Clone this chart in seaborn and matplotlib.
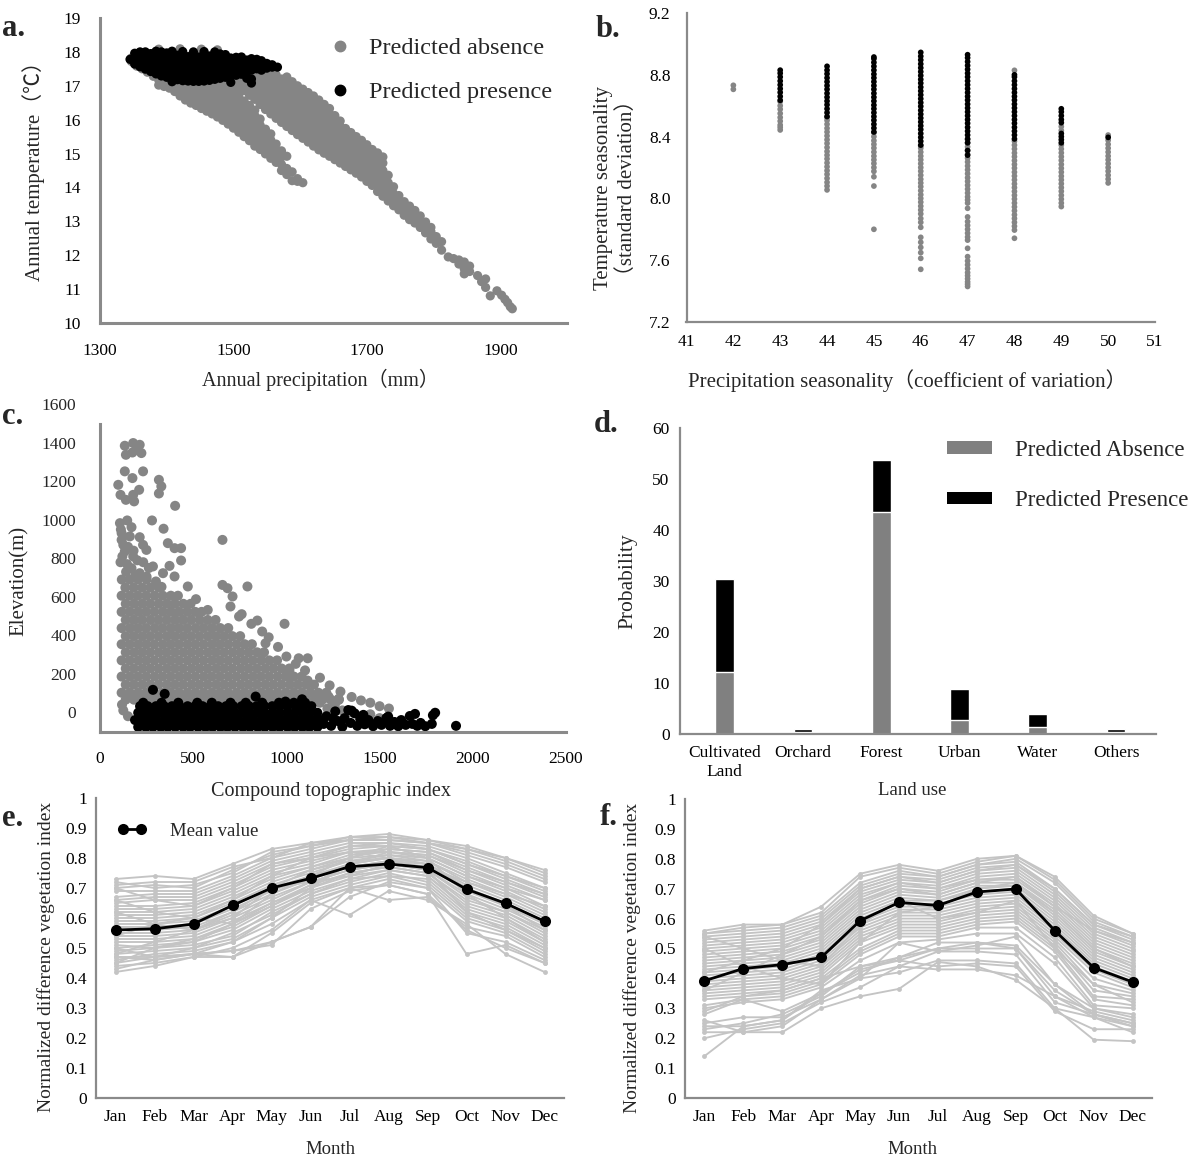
import numpy as np
import pandas as pd
import matplotlib
matplotlib.use("Agg")
import matplotlib.pyplot as plt
import seaborn as sns
from matplotlib.lines import Line2D
from matplotlib.patches import Patch

# ---------------------------------------------------------------- data
# panel a : (annual precipitation, [annual temperatures]) columns
a_absence = [
    (1347, [17.72, 17.82]), (1355, [17.58]), (1363, [17.50]), (1371, [17.40, 17.52]),
    (1380, [17.28, 17.42]), (1388, [17.02, 17.17, 17.32, 18.08]), (1396, [16.98, 17.12, 17.26]),
    (1404, [16.93, 17.08, 17.22]), (1412, [16.83, 16.99, 17.16]), (1420, [16.70, 16.87, 17.04, 17.19, 18.09]),
    (1428, [16.58, 16.75, 16.92, 17.09]), (1436, [16.49, 16.66, 16.83, 17.00, 17.15]),
    (1444, [16.42, 16.58, 16.76, 16.93, 17.10]), (1452, [16.33, 16.50, 16.68, 16.85, 17.03, 18.08]),
    (1460, [16.25, 16.43, 16.60, 16.78, 16.96, 17.12]), (1468, [16.17, 16.34, 16.52, 16.70, 16.88, 17.06]),
    (1476, [16.08, 16.26, 16.44, 16.62, 16.80, 16.98, 17.14, 18.06]),
    (1484, [15.98, 16.15, 16.33, 16.51, 16.69, 16.87, 17.05, 17.20]),
    (1492, [15.87, 16.04, 16.22, 16.40, 16.58, 16.76, 16.94, 17.12]),
    (1500, [15.75, 15.92, 16.10, 16.28, 16.46, 16.64, 16.82, 17.00, 17.18]),
    (1508, [15.63, 15.80, 15.98, 16.16, 16.34, 16.52, 16.70, 16.88, 17.06, 17.24]),
    (1516, [15.50, 15.68, 15.86, 16.04, 16.22, 16.40, 16.55, 16.86, 17.04, 17.22, 17.40]),
    (1524, [15.38, 15.56, 15.74, 15.92, 16.10, 16.28, 16.42, 16.72, 16.90, 17.08, 17.26, 17.44, 17.60]),
    (1532, [15.22, 15.40, 15.58, 15.76, 15.94, 16.12, 16.28, 16.60, 16.78, 16.96, 17.14, 17.32, 17.50, 17.64]),
    (1540, [15.12, 15.30, 15.48, 15.66, 15.84, 16.02, 16.45, 16.63, 16.81, 16.99, 17.17, 17.35, 17.53, 17.66]),
    (1548, [14.99, 15.17, 15.35, 15.53, 15.72, 16.30, 16.48, 16.66, 16.84, 17.02, 17.20, 17.38, 17.55]),
    (1556, [14.86, 15.04, 15.22, 15.40, 15.58, 16.17, 16.35, 16.53, 16.71, 16.89, 17.07, 17.25, 17.45]),
    (1564, [14.74, 14.92, 15.10, 15.28, 16.04, 16.22, 16.40, 16.58, 16.76, 16.94, 17.12, 17.32]),
    (1572, [14.50, 14.68, 14.90, 15.08, 15.92, 16.10, 16.28, 16.46, 16.64, 16.82, 17.00, 17.20]),
    (1580, [14.38, 14.56, 14.92, 15.80, 15.98, 16.16, 16.34, 16.52, 16.70, 16.88, 17.08, 17.26]),
    (1588, [14.20, 14.46, 15.68, 15.86, 16.04, 16.22, 16.40, 16.58, 16.76, 16.94, 17.12]),
    (1596, [14.18, 14.26, 15.56, 15.74, 15.92, 16.10, 16.28, 16.46, 16.64, 16.82, 17.00]),
    (1604, [14.14, 15.45, 15.63, 15.81, 15.99, 16.17, 16.35, 16.53, 16.71, 16.90]),
    (1612, [15.34, 15.52, 15.70, 15.88, 16.06, 16.24, 16.42, 16.60, 16.80]),
    (1620, [15.22, 15.40, 15.58, 15.76, 15.94, 16.12, 16.30, 16.48, 16.70]),
    (1628, [15.11, 15.29, 15.47, 15.65, 15.83, 16.01, 16.19, 16.37, 16.58]),
    (1636, [15.01, 15.19, 15.37, 15.55, 15.73, 15.91, 16.09, 16.27, 16.45]),
    (1644, [14.92, 15.10, 15.28, 15.46, 15.64, 15.82, 16.00, 16.18, 16.33]),
    (1652, [14.82, 15.00, 15.18, 15.36, 15.54, 15.72, 15.90, 16.12]),
    (1660, [14.72, 14.90, 15.08, 15.26, 15.44, 15.62, 15.80, 15.96]),
    (1668, [14.62, 14.80, 14.98, 15.16, 15.34, 15.52, 15.74]),
    (1676, [14.52, 14.70, 14.88, 15.06, 15.24, 15.42, 15.62]),
    (1684, [14.42, 14.60, 14.78, 14.96, 15.14, 15.32, 15.50]),
    (1692, [14.31, 14.49, 14.67, 14.85, 15.03, 15.21, 15.39]),
    (1700, [14.18, 14.36, 14.54, 14.72, 14.90, 15.08, 15.26]),
    (1708, [14.06, 14.24, 14.42, 14.60, 14.78, 14.96, 15.12]),
    (1716, [13.88, 14.06, 14.24, 14.42, 14.60, 14.80, 15.02]),
    (1724, [13.74, 13.92, 14.10, 14.28, 14.50, 14.72, 14.90]),
    (1732, [13.60, 13.78, 13.96, 14.14, 14.36]), (1740, [13.46, 13.64, 13.82, 14.02]),
    (1748, [13.34, 13.52, 13.76]), (1756, [13.18, 13.36, 13.58]), (1764, [13.05, 13.24, 13.45]),
    (1772, [12.95, 13.12, 13.32]), (1780, [12.82, 13.00, 13.16]), (1788, [12.66, 12.84, 12.98]),
    (1796, [12.48, 12.70, 12.82]), (1804, [12.35, 12.55]), (1812, [12.15, 12.40]),
    (1822, [11.95]), (1830, [11.90]), (1838, [11.86, 11.74]), (1846, [11.80, 11.60, 11.45]),
    (1854, [11.68, 11.52]), (1866, [11.40]), (1872, [11.22]), (1878, [11.30, 11.05]),
    (1885, [10.80]), (1895, [10.95]), (1902, [10.82]), (1907, [10.70]), (1911, [10.60]),
    (1915, [10.48]), (1918, [10.42]),
]
a_presence = [
    (1345, [17.78]), (1352, [17.64, 17.82, 17.96]), (1360, [17.56, 17.73, 17.90, 18.00]),
    (1368, [17.49, 17.66, 17.84, 18.00]), (1376, [17.42, 17.59, 17.77, 17.95]),
    (1384, [17.35, 17.52, 17.70, 17.88, 18.02]), (1392, [17.29, 17.47, 17.65, 17.83, 18.00]),
    (1400, [17.25, 17.43, 17.61, 17.79, 17.97]), (1408, [17.12, 17.22, 17.39, 17.57, 17.75, 17.93, 18.02]),
    (1416, [17.18, 17.36, 17.54, 17.72, 17.90]), (1424, [17.15, 17.33, 17.51, 17.69, 17.87, 18.01]),
    (1432, [17.14, 17.32, 17.50, 17.68, 17.86]), (1440, [17.13, 17.31, 17.49, 17.67, 17.85, 18.00]),
    (1448, [17.13, 17.31, 17.49, 17.67, 17.85]), (1456, [17.14, 17.32, 17.50, 17.68, 17.86, 18.01]),
    (1464, [17.16, 17.34, 17.52, 17.70, 17.88]), (1472, [17.19, 17.37, 17.55, 17.73, 17.91, 18.00]),
    (1480, [17.22, 17.40, 17.58, 17.76, 17.94]), (1488, [17.25, 17.43, 17.61, 17.79, 17.92]),
    (1496, [17.10, 17.28, 17.46, 17.64, 17.82]), (1504, [17.31, 17.49, 17.67, 17.84]),
    (1512, [17.34, 17.52, 17.70, 17.85]), (1520, [17.22, 17.40, 17.58, 17.76]),
    (1527, [17.08, 17.20, 17.46, 17.64, 17.80]), (1535, [17.50, 17.68, 17.78]),
    (1542, [17.46, 17.62, 17.74]), (1550, [17.52, 17.66]), (1558, [17.55, 17.62]), (1566, [17.55]),
]
a_xticks = [1300, 1500, 1700, 1900]
a_yticks = [10, 11, 12, 13, 14, 15, 16, 17, 18, 19]

# panel b : (precipitation seasonality, [temperature seasonality])
b_absence = [
    (42, [8.706, 8.732]),
    (43, [8.443, 8.46, 8.475, 8.50, 8.524, 8.55, 8.577, 8.60, 8.626]),
    (44, [8.055, 8.08, 8.104, 8.13, 8.156, 8.18, 8.205, 8.23, 8.256, 8.28, 8.304, 8.33,
          8.356, 8.38, 8.405, 8.43, 8.454, 8.48, 8.505, 8.525]),
    (45, [7.80, 8.08, 8.14, 8.175, 8.20, 8.226, 8.25, 8.274, 8.30, 8.326, 8.35, 8.374, 8.40, 8.425]),
    (46, [7.541, 7.612, 7.649, 7.683, 7.716, 7.748, 7.813, 7.845, 7.87, 7.90, 7.925, 7.95, 7.976,
          8.00, 8.024, 8.05, 8.076, 8.10, 8.124, 8.15, 8.176, 8.20, 8.225, 8.25, 8.274, 8.30, 8.325, 8.34]),
    (47, [7.43, 7.445, 7.46, 7.48, 7.50, 7.52, 7.545, 7.57, 7.595, 7.623, 7.677, 7.73, 7.75, 7.775,
          7.80, 7.825, 7.85, 7.88, 7.936, 7.97, 7.99, 8.01, 8.035, 8.06, 8.085, 8.11, 8.134, 8.16,
          8.185, 8.21, 8.236, 8.26, 8.285, 8.31, 8.334, 8.36, 8.38]),
    (48, [7.742, 7.795, 7.82, 7.845, 7.87, 7.894, 7.92, 7.945, 7.97, 7.996, 8.02, 8.045, 8.07,
          8.094, 8.12, 8.145, 8.17, 8.196, 8.22, 8.245, 8.27, 8.294, 8.32, 8.345, 8.37, 8.829]),
    (49, [7.947, 7.97, 7.995, 8.02, 8.046, 8.07, 8.095, 8.12, 8.144, 8.17, 8.195, 8.22, 8.246,
          8.27, 8.295, 8.32, 8.345, 8.44, 8.465]),
    (50, [8.10, 8.125, 8.15, 8.176, 8.20, 8.225, 8.25, 8.274, 8.30, 8.325, 8.35, 8.376, 8.41]),
]
b_presence = [
    (43, [8.635, 8.66, 8.686, 8.71, 8.735, 8.76, 8.786, 8.81, 8.83]),
    (44, [8.53, 8.555, 8.58, 8.606, 8.63, 8.655, 8.68, 8.706, 8.73, 8.755, 8.78, 8.806, 8.83, 8.855]),
    (45, [8.43, 8.455, 8.48, 8.506, 8.53, 8.555, 8.58, 8.604, 8.63, 8.655, 8.68, 8.706, 8.73,
          8.755, 8.78, 8.804, 8.83, 8.855, 8.88, 8.904, 8.915]),
    (46, [8.345, 8.37, 8.395, 8.42, 8.446, 8.47, 8.495, 8.52, 8.545, 8.57, 8.596, 8.62, 8.645,
          8.67, 8.695, 8.72, 8.746, 8.77, 8.795, 8.82, 8.845, 8.87, 8.896, 8.92, 8.945]),
    (47, [8.28, 8.31, 8.36, 8.385, 8.41, 8.435, 8.46, 8.486, 8.51, 8.535, 8.56, 8.585, 8.61,
          8.636, 8.66, 8.685, 8.71, 8.735, 8.76, 8.786, 8.81, 8.835, 8.86, 8.885, 8.91, 8.93]),
    (48, [8.385, 8.41, 8.435, 8.46, 8.486, 8.51, 8.535, 8.56, 8.585, 8.61, 8.636, 8.66, 8.685,
          8.71, 8.735, 8.76, 8.786, 8.80]),
    (49, [8.36, 8.38, 8.40, 8.42, 8.49, 8.51, 8.535, 8.56, 8.58]),
    (50, [8.395]),
]
b_xticks = [41, 42, 43, 44, 45, 46, 47, 48, 49, 50, 51]
b_yticks = [7.2, 7.6, 8.0, 8.4, 8.8, 9.2]
b_ytick_labels = ["7.2", "7.6", "8.0", "8.4", "8.8", "9.2"]

# panel c : rows (elevation, [compound topographic index]) + single points
c_absence_rows = [
    (700, [117, 160, 204, 250]),
    (658, [136, 181, 226, 270, 316]),
    (616, [116, 160, 203, 248, 293, 337, 380, 418]),
    (574, [138, 183, 227, 270, 315, 359, 402, 447, 486]),
    (532, [116, 160, 205, 248, 292, 337, 381, 424, 468, 511, 545]),
    (490, [138, 182, 226, 271, 314, 358, 403, 446, 490, 535, 578, 620]),
    (448, [116, 161, 204, 248, 293, 336, 381, 424, 468, 513, 556, 600, 645, 688]),
    (406, [138, 182, 227, 270, 314, 359, 402, 447, 490, 534, 579, 622, 666, 710, 752]),
    (364, [116, 160, 205, 248, 292, 337, 380, 424, 469, 512, 556, 601, 644, 688, 733, 776, 815]),
    (322, [138, 183, 226, 270, 315, 358, 402, 447, 490, 534, 579, 622, 666, 711, 754, 798, 843, 880]),
    (280, [116, 160, 205, 248, 292, 337, 380, 424, 469, 512, 556, 601, 644, 688, 733, 776, 820,
           865, 908, 950]),
    (238, [138, 182, 227, 270, 314, 359, 402, 446, 491, 534, 578, 623, 666, 710, 755, 798, 842,
           887, 930, 974, 1016]),
    (196, [116, 161, 204, 248, 293, 336, 380, 425, 468, 512, 557, 600, 644, 689, 732, 776, 821,
           864, 908, 953, 996, 1040, 1082]),
    (154, [138, 182, 227, 270, 314, 359, 402, 446, 491, 534, 578, 623, 666, 710, 755, 798, 842,
           887, 930, 974, 1019, 1062, 1106, 1148]),
    (112, [116, 160, 205, 248, 292, 337, 380, 424, 469, 512, 556, 601, 644, 688, 733, 776, 820,
           865, 908, 952, 997, 1040, 1084, 1129, 1172, 1214]),
    (76, [138, 182, 227, 270, 314, 359, 402, 446, 491, 534, 578, 623, 666, 710, 755, 798, 842,
          887, 930, 974, 1019, 1062, 1106, 1151, 1194, 1238, 1282]),
]
c_absence_points = [
    (178, 1409), (213, 1400), (133, 1395), (195, 1374), (222, 1357), (139, 1348), (174, 1360),
    (98, 1192), (133, 1262), (174, 1227), (231, 1262), (316, 1218), (329, 1184), (110, 1140),
    (139, 1114), (178, 1140), (210, 1166), (183, 1106), (316, 1147), (403, 1083), (107, 993),
    (146, 1007), (279, 1007), (169, 972), (341, 964), (116, 941), (160, 924), (116, 906),
    (213, 920), (657, 906), (364, 889), (400, 863), (435, 863), (231, 880), (249, 854),
    (133, 846), (178, 820), (435, 799), (284, 768), (373, 771), (169, 759), (213, 733),
    (338, 733), (400, 716), (471, 664), (657, 672), (684, 655), (791, 664), (711, 612),
    (515, 598), (578, 542), (844, 487), (990, 470), (1066, 291), (1114, 291), (1016, 227),
    (1016, 192), (1114, 175), (1226, 92), (1279, 75), (888, 369), (746, 508), (533, 525),
    (112, 960), (125, 880), (150, 870), (120, 820), (180, 850), (110, 790), (145, 780),
    (200, 800), (232, 790), (262, 760), (140, 740), (190, 722), (250, 715), (300, 690),
    (330, 662), (118, 50), (150, -10), (125, 20), (700, 560), (760, 520), (812, 470),
    (870, 430), (905, 400), (955, 350), (1000, 300), (1050, 262), (1100, 228), (1180, 190),
    (1232, 150), (1290, 118), (1350, 90), (1400, 72), (1450, 60), (1500, 42), (1550, 30),
    (1180, 60), (1220, 30), (1260, 50), (1300, 20), (1350, 10), (1400, -10), (1450, 0),
    (1500, -20), (1550, -30), (1200, 90), (1280, 80),
]
c_presence_rows = [
    (-66, [205, 246, 284, 326, 364, 404, 446, 484, 526, 566, 604, 646, 684, 724, 766, 804, 846,
           884, 926, 964, 1006, 1044, 1086, 1124, 1166]),
    (-30, [188, 226, 266, 304, 346, 386, 424, 466, 504, 546, 586, 624, 666, 706, 744, 786, 824,
           866, 906, 944, 986, 1024, 1066, 1106, 1146, 1186]),
    (8, [205, 246, 284, 326, 364, 404, 446, 484, 526, 566, 604, 646, 684, 724, 766, 804, 846,
         884, 926, 964, 1006, 1044, 1086, 1124, 1166]),
    (42, [215, 256, 300, 344, 386, 426, 470, 510, 550, 592, 634, 676, 716, 760, 800, 840, 882,
          924, 966, 1006, 1050, 1090, 1134]),
    (60, [232, 330, 420, 522, 600, 700, 782, 870, 960, 1040, 1100]),
]
c_presence_points = [
    (1200, -50), (1215, -10), (1240, -60), (1262, 15), (1276, -35), (1300, -65), (1312, -20),
    (1332, 22), (1345, -45), (1366, 5), (1380, -60), (1396, -25), (1413, -3), (1420, -52),
    (1465, -62), (1490, -35), (1510, -55), (1536, -20), (1546, -12), (1556, -60), (1580, -40),
    (1600, -62), (1616, -30), (1640, -55), (1662, -9), (1676, -50), (1690, 2), (1702, -60),
    (1720, -45), (1745, -62), (1780, -50), (1786, -5), (1798, 8), (1910, -60), (284, 127),
    (347, 106), (835, 92), (995, 66), (1084, 78), (1350, 19), (1440, -30), (1250, -20),
]
c_xticks = [0, 500, 1000, 1500, 2000, 2500]
c_ytick_marks = [-92, 108, 308, 508, 708, 908, 1108, 1308, 1508]
c_ytick_values = [0, 200, 400, 600, 800, 1000, 1200, 1400, 1600]
c_ytick_labels = ["0", "200", "400", "600", "800", "1000", "1200", "1400", "1600"]

# panel d : land use
d_categories = ["Cultivated\nLand", "Orchard", "Forest", "Urban", "Water", "Others"]
d_absence = [12.2, 0.3, 43.6, 2.75, 1.4, 0.3]
d_presence = [18.2, 0.7, 10.1, 6.1, 2.6, 0.7]
d_yticks = [0, 10, 20, 30, 40, 50, 60]

# panels e / f : monthly NDVI
months = ["Jan", "Feb", "Mar", "Apr", "May", "Jun", "Jul", "Aug", "Sep", "Oct", "Nov", "Dec"]
e_mean = [0.56, 0.564, 0.58, 0.642, 0.70, 0.732, 0.771, 0.78, 0.768, 0.696, 0.649, 0.589]
f_mean = [0.392, 0.433, 0.446, 0.47, 0.593, 0.654, 0.644, 0.689, 0.699, 0.56, 0.436, 0.388]
e_lines = [
    [0.42, 0.44, 0.47, 0.47, 0.52, 0.57, 0.67, 0.72, 0.70, 0.55, 0.52, 0.46],
    [0.43, 0.46, 0.48, 0.49, 0.51, 0.63, 0.69, 0.71, 0.68, 0.48, 0.51, 0.45],
    [0.44, 0.45, 0.47, 0.50, 0.56, 0.66, 0.61, 0.69, 0.66, 0.58, 0.48, 0.42],
    [0.45, 0.47, 0.48, 0.47, 0.55, 0.65, 0.70, 0.66, 0.67, 0.57, 0.54, 0.47],
    [0.47, 0.46, 0.48, 0.49, 0.52, 0.57, 0.70, 0.71, 0.68, 0.56, 0.50, 0.45],
    [0.46, 0.48, 0.49, 0.52, 0.58, 0.66, 0.70, 0.73, 0.70, 0.59, 0.55, 0.48],
    [0.47, 0.47, 0.50, 0.53, 0.60, 0.67, 0.71, 0.74, 0.71, 0.60, 0.56, 0.49],
    [0.48, 0.49, 0.50, 0.55, 0.61, 0.68, 0.72, 0.75, 0.72, 0.61, 0.57, 0.50],
    [0.49, 0.50, 0.51, 0.54, 0.62, 0.68, 0.73, 0.74, 0.73, 0.62, 0.58, 0.51],
    [0.50, 0.51, 0.52, 0.56, 0.63, 0.69, 0.73, 0.76, 0.74, 0.63, 0.59, 0.52],
    [0.51, 0.50, 0.53, 0.57, 0.64, 0.70, 0.74, 0.76, 0.74, 0.64, 0.60, 0.53],
    [0.52, 0.52, 0.53, 0.58, 0.65, 0.70, 0.75, 0.77, 0.75, 0.65, 0.61, 0.54],
    [0.53, 0.53, 0.54, 0.59, 0.65, 0.71, 0.75, 0.77, 0.75, 0.66, 0.62, 0.55],
    [0.54, 0.54, 0.55, 0.60, 0.66, 0.72, 0.76, 0.78, 0.76, 0.67, 0.62, 0.56],
    [0.55, 0.55, 0.56, 0.61, 0.67, 0.72, 0.76, 0.78, 0.76, 0.68, 0.63, 0.57],
    [0.56, 0.56, 0.57, 0.62, 0.68, 0.73, 0.77, 0.79, 0.77, 0.69, 0.64, 0.58],
    [0.57, 0.57, 0.58, 0.63, 0.69, 0.74, 0.77, 0.79, 0.78, 0.70, 0.65, 0.59],
    [0.58, 0.58, 0.59, 0.64, 0.70, 0.74, 0.78, 0.80, 0.78, 0.71, 0.66, 0.60],
    [0.59, 0.59, 0.60, 0.65, 0.71, 0.75, 0.79, 0.80, 0.79, 0.72, 0.67, 0.61],
    [0.60, 0.60, 0.61, 0.66, 0.72, 0.76, 0.79, 0.81, 0.79, 0.73, 0.68, 0.62],
    [0.61, 0.61, 0.62, 0.67, 0.73, 0.77, 0.80, 0.81, 0.80, 0.74, 0.69, 0.63],
    [0.62, 0.62, 0.63, 0.68, 0.74, 0.77, 0.81, 0.82, 0.81, 0.75, 0.70, 0.64],
    [0.63, 0.63, 0.64, 0.69, 0.75, 0.78, 0.82, 0.82, 0.81, 0.76, 0.71, 0.66],
    [0.64, 0.64, 0.65, 0.70, 0.76, 0.79, 0.82, 0.83, 0.82, 0.77, 0.72, 0.67],
    [0.65, 0.66, 0.66, 0.71, 0.77, 0.80, 0.83, 0.84, 0.83, 0.78, 0.73, 0.68],
    [0.66, 0.67, 0.67, 0.72, 0.78, 0.81, 0.84, 0.84, 0.83, 0.79, 0.74, 0.69],
    [0.67, 0.68, 0.68, 0.73, 0.79, 0.82, 0.85, 0.85, 0.84, 0.80, 0.75, 0.70],
    [0.69, 0.69, 0.69, 0.74, 0.80, 0.83, 0.86, 0.86, 0.85, 0.81, 0.77, 0.72],
    [0.70, 0.71, 0.70, 0.76, 0.81, 0.84, 0.86, 0.87, 0.85, 0.82, 0.78, 0.73],
    [0.72, 0.70, 0.71, 0.75, 0.82, 0.84, 0.87, 0.87, 0.86, 0.83, 0.79, 0.74],
    [0.73, 0.74, 0.73, 0.78, 0.83, 0.85, 0.87, 0.88, 0.86, 0.84, 0.80, 0.75],
    [0.71, 0.72, 0.72, 0.77, 0.80, 0.85, 0.86, 0.86, 0.85, 0.83, 0.80, 0.76],
    [0.62, 0.58, 0.56, 0.60, 0.70, 0.76, 0.80, 0.84, 0.80, 0.68, 0.60, 0.52],
    [0.48, 0.52, 0.56, 0.62, 0.70, 0.72, 0.74, 0.78, 0.77, 0.72, 0.68, 0.64],
    [0.66, 0.62, 0.60, 0.58, 0.64, 0.71, 0.78, 0.80, 0.76, 0.62, 0.56, 0.50],
    [0.50, 0.47, 0.48, 0.52, 0.60, 0.70, 0.78, 0.82, 0.80, 0.74, 0.70, 0.66],
    [0.70, 0.66, 0.64, 0.70, 0.78, 0.80, 0.82, 0.80, 0.78, 0.70, 0.64, 0.56],
    [0.54, 0.58, 0.60, 0.66, 0.74, 0.80, 0.84, 0.85, 0.83, 0.78, 0.74, 0.70],
    [0.45, 0.50, 0.52, 0.58, 0.68, 0.74, 0.80, 0.83, 0.82, 0.76, 0.72, 0.68],
]
f_lines = [
    [0.56, 0.58, 0.58, 0.64, 0.75, 0.78, 0.76, 0.80, 0.81, 0.74, 0.61, 0.55],
    [0.55, 0.57, 0.58, 0.62, 0.74, 0.77, 0.75, 0.79, 0.81, 0.73, 0.60, 0.55],
    [0.55, 0.56, 0.57, 0.61, 0.72, 0.76, 0.74, 0.78, 0.80, 0.72, 0.59, 0.54],
    [0.54, 0.55, 0.56, 0.60, 0.71, 0.75, 0.74, 0.78, 0.79, 0.70, 0.58, 0.53],
    [0.53, 0.54, 0.55, 0.59, 0.70, 0.74, 0.73, 0.77, 0.78, 0.69, 0.57, 0.52],
    [0.52, 0.53, 0.54, 0.58, 0.69, 0.73, 0.72, 0.76, 0.77, 0.68, 0.56, 0.51],
    [0.51, 0.52, 0.53, 0.57, 0.68, 0.72, 0.71, 0.75, 0.76, 0.67, 0.55, 0.50],
    [0.50, 0.51, 0.52, 0.56, 0.67, 0.72, 0.70, 0.74, 0.75, 0.66, 0.54, 0.49],
    [0.49, 0.50, 0.51, 0.55, 0.66, 0.71, 0.70, 0.73, 0.74, 0.65, 0.53, 0.48],
    [0.48, 0.49, 0.50, 0.54, 0.65, 0.70, 0.69, 0.73, 0.73, 0.64, 0.52, 0.47],
    [0.47, 0.48, 0.49, 0.53, 0.64, 0.69, 0.68, 0.72, 0.72, 0.63, 0.51, 0.46],
    [0.46, 0.47, 0.48, 0.52, 0.63, 0.68, 0.67, 0.71, 0.71, 0.62, 0.50, 0.45],
    [0.45, 0.46, 0.47, 0.51, 0.62, 0.67, 0.66, 0.70, 0.71, 0.61, 0.49, 0.44],
    [0.44, 0.45, 0.46, 0.50, 0.61, 0.66, 0.66, 0.69, 0.70, 0.60, 0.48, 0.43],
    [0.43, 0.44, 0.45, 0.49, 0.60, 0.65, 0.65, 0.68, 0.69, 0.59, 0.47, 0.42],
    [0.42, 0.43, 0.44, 0.48, 0.59, 0.64, 0.64, 0.67, 0.68, 0.58, 0.46, 0.41],
    [0.41, 0.42, 0.43, 0.47, 0.58, 0.63, 0.63, 0.66, 0.67, 0.57, 0.45, 0.40],
    [0.40, 0.41, 0.42, 0.46, 0.57, 0.62, 0.62, 0.65, 0.66, 0.56, 0.44, 0.39],
    [0.39, 0.40, 0.41, 0.45, 0.56, 0.61, 0.61, 0.64, 0.65, 0.55, 0.43, 0.38],
    [0.38, 0.39, 0.40, 0.44, 0.55, 0.60, 0.60, 0.63, 0.64, 0.54, 0.42, 0.37],
    [0.37, 0.38, 0.39, 0.43, 0.54, 0.59, 0.59, 0.62, 0.63, 0.53, 0.40, 0.36],
    [0.36, 0.37, 0.38, 0.42, 0.53, 0.58, 0.58, 0.61, 0.62, 0.52, 0.38, 0.35],
    [0.35, 0.36, 0.37, 0.41, 0.52, 0.57, 0.57, 0.60, 0.61, 0.51, 0.36, 0.34],
    [0.34, 0.35, 0.36, 0.40, 0.50, 0.56, 0.56, 0.59, 0.60, 0.50, 0.34, 0.33],
    [0.33, 0.34, 0.35, 0.39, 0.49, 0.55, 0.55, 0.58, 0.59, 0.49, 0.33, 0.31],
    [0.31, 0.33, 0.34, 0.38, 0.48, 0.54, 0.54, 0.57, 0.57, 0.47, 0.31, 0.30],
    [0.30, 0.32, 0.33, 0.37, 0.46, 0.52, 0.53, 0.55, 0.55, 0.45, 0.30, 0.28],
    [0.29, 0.34, 0.36, 0.40, 0.44, 0.47, 0.52, 0.52, 0.51, 0.38, 0.30, 0.27],
    [0.28, 0.33, 0.29, 0.35, 0.43, 0.46, 0.50, 0.50, 0.50, 0.34, 0.29, 0.26],
    [0.25, 0.27, 0.27, 0.33, 0.41, 0.44, 0.49, 0.49, 0.48, 0.32, 0.28, 0.25],
    [0.24, 0.24, 0.26, 0.36, 0.40, 0.42, 0.46, 0.46, 0.45, 0.30, 0.27, 0.24],
    [0.23, 0.25, 0.28, 0.34, 0.44, 0.46, 0.44, 0.45, 0.44, 0.29, 0.23, 0.23],
    [0.22, 0.22, 0.22, 0.30, 0.34, 0.365, 0.455, 0.44, 0.395, 0.30, 0.195, 0.19],
    [0.20, 0.23, 0.25, 0.32, 0.37, 0.44, 0.43, 0.43, 0.41, 0.34, 0.27, 0.22],
    [0.14, 0.24, 0.26, 0.35, 0.42, 0.47, 0.50, 0.52, 0.50, 0.36, 0.28, 0.24],
    [0.26, 0.22, 0.24, 0.33, 0.40, 0.52, 0.49, 0.51, 0.54, 0.38, 0.28, 0.25],
    [0.50, 0.44, 0.40, 0.38, 0.52, 0.62, 0.64, 0.70, 0.72, 0.62, 0.50, 0.44],
    [0.36, 0.42, 0.48, 0.54, 0.66, 0.70, 0.68, 0.72, 0.74, 0.64, 0.56, 0.52],
    [0.54, 0.50, 0.46, 0.44, 0.58, 0.66, 0.60, 0.62, 0.66, 0.50, 0.38, 0.32],
    [0.42, 0.46, 0.50, 0.58, 0.70, 0.74, 0.72, 0.76, 0.78, 0.70, 0.58, 0.54],
]
ndvi_yticks = [0, 0.1, 0.2, 0.3, 0.4, 0.5, 0.6, 0.7, 0.8, 0.9, 1.0]
ndvi_ytick_labels = ["0", "0.1", "0.2", "0.3", "0.4", "0.5", "0.6", "0.7", "0.8", "0.9", "1"]

# ---------------------------------------------------------------- style
sns.set_theme(style="white")
plt.rcParams["font.family"] = ["Liberation Serif", "Noto Sans CJK SC"]
plt.rcParams["axes.unicode_minus"] = False

GRAY = "#858585"
LGRAY = "#c4c4c4"
SPINE = "#8a8a8a"
W, H = 1200, 1161
TICK_FS = 12.5
LAB_FS = 14.5

fig = plt.figure(figsize=(W / 100, H / 100), dpi=100)


def px_axes(l, t, r, b):
    a = fig.add_axes([l / W, 1 - b / H, (r - l) / W, (b - t) / H])
    a.patch.set_visible(False)
    return a


def style(ax, lw=1.6, tick_len=4.0):
    for s in ["top", "right"]:
        ax.spines[s].set_visible(False)
    for s in ["left", "bottom"]:
        ax.spines[s].set_color(SPINE)
        ax.spines[s].set_linewidth(lw)
    ax.tick_params(which="both", direction="out", color=SPINE, width=lw, length=tick_len,
                   labelsize=TICK_FS, labelcolor="black")
    ax.grid(False)


def set_labels(ax, xl, yl, xpos, ypos, yfs=LAB_FS + 0.5, xfs=LAB_FS):
    ax.set_xlabel(xl, fontsize=xfs, va="center", ha="center")
    ax.set_ylabel(yl, fontsize=yfs, va="center", ha="center")
    ax.xaxis.set_label_coords(*xpos)
    ax.yaxis.set_label_coords(*ypos)


def cols_to_df(cols, name):
    return pd.DataFrame([(x, y, name) for x, ys in cols for y in ys], columns=["x", "y", "cls"])


def rows_to_df(rows, pts, name):
    recs = [(x, y, name) for y, xs in rows for x in xs] + [(x, y, name) for x, y in pts]
    return pd.DataFrame(recs, columns=["x", "y", "cls"])


pal = {"absence": GRAY, "presence": "black"}

# ---------------------------------------------------------------- panel a
ax = px_axes(100, 18, 567, 323)
dfa = pd.concat([cols_to_df(a_absence, "absence"), cols_to_df(a_presence, "presence")])
sns.scatterplot(data=dfa, x="x", y="y", hue="cls", palette=pal, s=44, linewidth=0,
                ax=ax, legend=False)
ax.set_xlim(1300, 2000)
ax.set_ylim(10, 19)
ax.set_xticks(a_xticks)
ax.set_yticks(a_yticks)
style(ax, lw=2.2, tick_len=5.5)
ax.tick_params(axis="x", pad=9)
ax.tick_params(axis="y", pad=8)
set_labels(ax, "Annual precipitation（mm）", "Annual temperature（℃）",
           (0.473, -0.187), (-0.143, 0.515))
ha = [Line2D([], [], marker="o", ls="none", mfc=GRAY, mec=GRAY, ms=7.5),
      Line2D([], [], marker="o", ls="none", mfc="black", mec="black", ms=7.5)]
ax.legend(ha, ["Predicted absence", "Predicted presence"], loc="upper left",
          bbox_to_anchor=(0.487, 0.937), frameon=False, fontsize=17.5, handlelength=1.0,
          handletextpad=0.72, labelspacing=0.9, borderpad=0, borderaxespad=0)

# ---------------------------------------------------------------- panel b
ax = px_axes(686.5, 13, 1155, 322)
dfb = pd.concat([cols_to_df(b_absence, "absence"), cols_to_df(b_presence, "presence")])
sns.scatterplot(data=dfb, x="x", y="y", hue="cls", palette=pal, s=17, linewidth=0,
                ax=ax, legend=False)
ax.set_xlim(41, 51)
ax.set_ylim(7.2, 9.2)
ax.set_xticks(b_xticks)
ax.set_yticks(b_yticks)
ax.set_yticklabels(b_ytick_labels)
style(ax, lw=1.6, tick_len=3.5)
ax.tick_params(axis="x", pad=5)
ax.tick_params(axis="y", pad=8)
set_labels(ax, "Precipitation seasonality（coefficient of variation）",
           "Temperature seasonality\n（standard deviation）",
           (0.471, -0.188), (-0.152, 0.434), xfs=LAB_FS + 0.5)
ax.yaxis.label.set_linespacing(1.25)

# ---------------------------------------------------------------- panel c
ax = px_axes(100, 424, 566, 732)
dfc = pd.concat([rows_to_df(c_absence_rows, c_absence_points, "absence"),
                 rows_to_df(c_presence_rows, c_presence_points, "presence")])
sns.scatterplot(data=dfc, x="x", y="y", hue="cls", palette=pal, s=52, linewidth=0,
                ax=ax, legend=False)
ax.set_xlim(0, 2500)
ax.set_ylim(c_ytick_marks[0], c_ytick_marks[-1])
ax.set_xticks(c_xticks)
ax.set_yticks(c_ytick_marks)
ax.set_yticklabels([])
style(ax, lw=2.2, tick_len=5.5)
ax.tick_params(axis="x", pad=8)
for v, lab in zip(c_ytick_values, c_ytick_labels):
    ax.annotate(lab, xy=(0, v), xycoords=ax.get_yaxis_transform(), xytext=(-17, 0),
                textcoords="offset points", ha="right", va="center", fontsize=TICK_FS,
                annotation_clip=False)
set_labels(ax, "Compound topographic index", "Elevation(m)", (0.496, -0.192), (-0.174, 0.49))

# ---------------------------------------------------------------- panel d
ax = px_axes(680, 428, 1156, 734)
totals = [a + p for a, p in zip(d_absence, d_presence)]
sns.barplot(x=d_categories, y=totals, color="black", width=0.24, saturation=1,
            errorbar=None, ax=ax)
sns.barplot(x=d_categories, y=d_absence, color="#808080", width=0.24, saturation=1,
            errorbar=None, ax=ax)
ax.set_xlim(-0.57, 5.51)
ax.set_ylim(0, 60)
ax.set_yticks(d_yticks)
style(ax, lw=1.6, tick_len=3.5)
ax.tick_params(axis="x", length=0, pad=8)
ax.tick_params(axis="y", pad=4)
set_labels(ax, "Land use", "Probability", (0.487, -0.186), (-0.109, 0.5),
           yfs=LAB_FS + 1, xfs=LAB_FS - 1)
hd = [Patch(facecolor="#808080", edgecolor="none"), Patch(facecolor="black", edgecolor="none")]
ax.legend(hd, ["Predicted Absence", "Predicted Presence"], loc="upper left",
          bbox_to_anchor=(0.561, 0.962), frameon=False, fontsize=16.5, handlelength=1.95,
          handleheight=0.45, handletextpad=1.0, labelspacing=1.3, borderpad=0,
          borderaxespad=0)


# ---------------------------------------------------------------- panels e, f
def draw_ndvi(ax, lines, mean, xpos, ypos, legend=False):
    recs = [(i, m, v) for i, line in enumerate(lines) for m, v in enumerate(line)]
    df = pd.DataFrame(recs, columns=["line", "month", "ndvi"])
    sns.lineplot(data=df, x="month", y="ndvi", units="line", estimator=None, color=LGRAY,
                 linewidth=1.35, marker="o", markersize=3.5, markeredgewidth=0, ax=ax,
                 legend=False)
    dm = pd.DataFrame({"month": list(range(len(months))), "ndvi": mean})
    sns.lineplot(data=dm, x="month", y="ndvi", color="black", linewidth=2.0, marker="o",
                 markersize=8, markeredgewidth=0, ax=ax, legend=False)
    ax.set_xlim(-0.5, 11.5)
    ax.set_ylim(0, 1)
    ax.set_xticks(range(len(months)))
    ax.set_xticklabels(months)
    ax.set_xticks(np.arange(-0.5, 12, 1.0), minor=True)
    ax.set_yticks(ndvi_yticks)
    ax.set_yticklabels(ndvi_ytick_labels)
    style(ax, lw=1.6, tick_len=3.5)
    ax.tick_params(axis="x", which="major", length=0, pad=8)
    ax.tick_params(axis="y", pad=3)
    set_labels(ax, "Month", "Normalized difference vegetation index", xpos, ypos,
               yfs=LAB_FS - 0.5, xfs=LAB_FS - 1)
    if legend:
        hl = [Line2D([], [], color="black", lw=2.0, marker="o", ms=8, mew=0)]
        ax.legend(hl, ["Mean value"], loc="upper left", bbox_to_anchor=(0.045, 0.918),
                  frameon=False, fontsize=13.5, numpoints=2, handlelength=1.6,
                  handletextpad=1.2, borderpad=0, borderaxespad=0)


ax = px_axes(96, 798, 564, 1098)
draw_ndvi(ax, e_lines, e_mean, (0.502, -0.173), (-0.107, 0.47), legend=True)
ax = px_axes(685, 799, 1152, 1098)
draw_ndvi(ax, f_lines, f_mean, (0.486, -0.173), (-0.113, 0.47))

# ---------------------------------------------------------------- panel letters
for lab, x, y in [("a.", 2, 36), ("b.", 596, 37), ("c.", 2, 424), ("d.", 594, 432),
                  ("e.", 2, 826), ("f.", 600, 825)]:
    fig.text(x / W, 1 - y / H, lab, fontsize=22, fontweight="bold", ha="left", va="baseline")

fig.savefig("out.png", dpi=100, facecolor="white")
